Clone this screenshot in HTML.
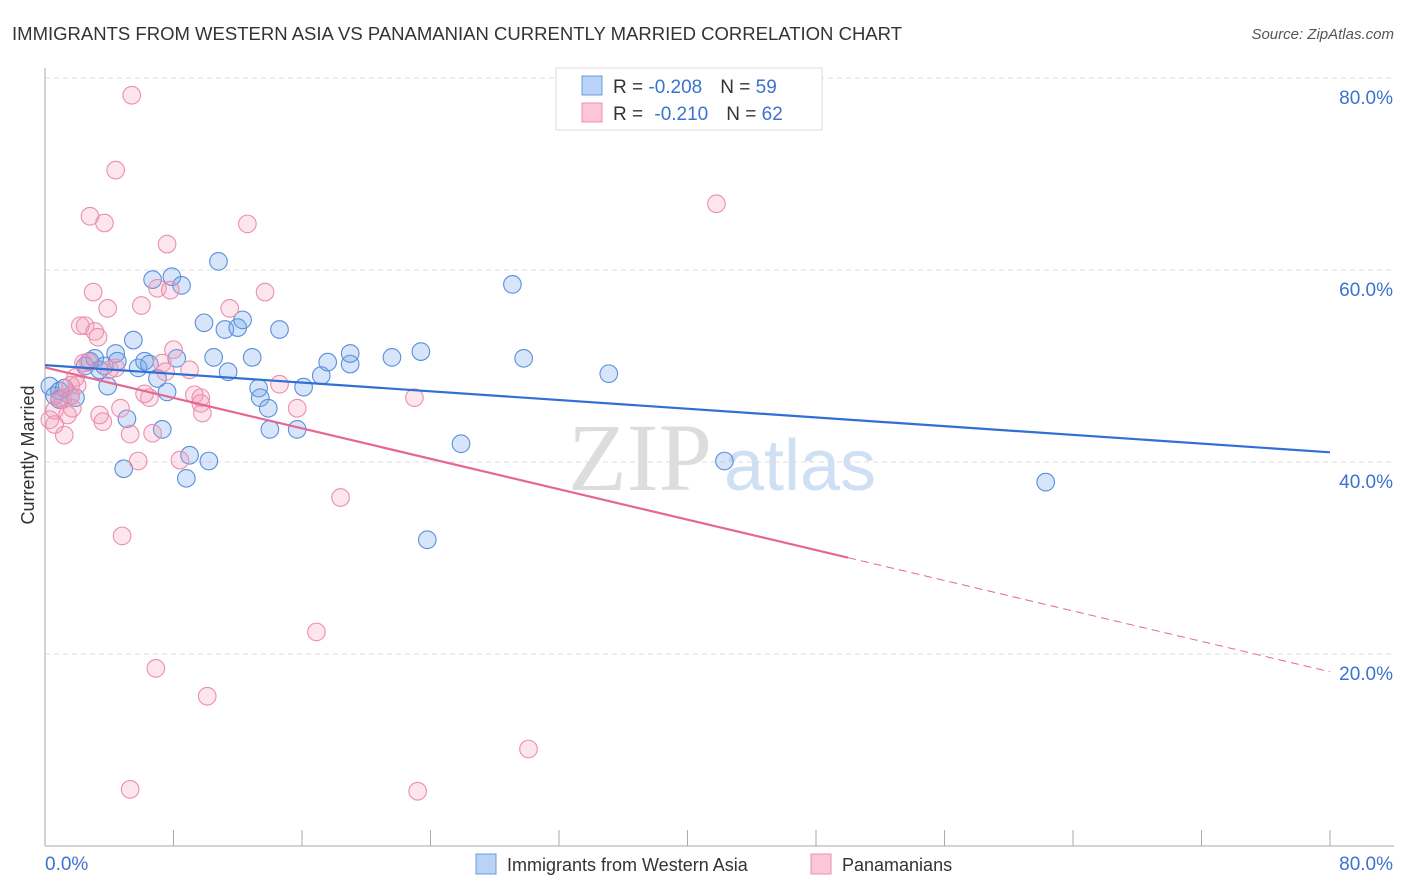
<!DOCTYPE html>
<html><head><meta charset="utf-8"><style>
body{margin:0;background:#fff;font-family:"Liberation Sans",sans-serif}
svg{display:block}
</style></head><body>
<svg id="c" width="1406" height="892">
<text x="12" y="40" font-size="18" fill="#333" textLength="890" lengthAdjust="spacingAndGlyphs">IMMIGRANTS FROM WESTERN ASIA VS PANAMANIAN CURRENTLY MARRIED CORRELATION CHART</text>
<text x="1394" y="39" font-size="15" fill="#555" font-style="italic" text-anchor="end">Source: ZipAtlas.com</text>
<text x="640" y="490" font-size="96" fill="#ddd" font-family="Liberation Serif" text-anchor="middle">ZIP</text>
<text x="800" y="490" font-size="72" fill="#cfe0f5" text-anchor="middle">atlas</text>
<text transform="translate(34,455) rotate(-90)" font-size="18" fill="#333" text-anchor="middle">Currently Married</text>
<g id="grid"></g><g id="pts"></g><g id="lines"></g>
<g>
<rect x="556" y="68" width="266" height="62" fill="#fff" stroke="#ddd"/>
<rect x="582" y="76" width="20" height="19" fill="#b9d3f5" stroke="#6a9be0"/>
<rect x="582" y="103" width="20" height="19" fill="#fbc7d6" stroke="#ee8fac"/>
<text x="613" y="93" font-size="19" fill="#333">R = <tspan fill="#3a73d0">-0.208</tspan><tspan dx="18">N = </tspan><tspan fill="#3a73d0">59</tspan></text>
<text x="613" y="120" font-size="19" fill="#333">R = <tspan fill="#3a73d0" dx="6">-0.210</tspan><tspan dx="18">N = </tspan><tspan fill="#3a73d0">62</tspan></text>
</g>
<g>
<rect x="476" y="854" width="20" height="20" fill="#b9d3f5" stroke="#6a9be0"/>
<text x="507" y="871" font-size="18" fill="#333">Immigrants from Western Asia</text>
<rect x="811" y="854" width="20" height="20" fill="#fbc7d6" stroke="#ee8fac"/>
<text x="842" y="871" font-size="18" fill="#333">Panamanians</text>
</g>
</svg>
<script>
const yTicks=[20,40,60,80];
const xTickLabels=["0.0%","80.0%"];
const blueX=[0.3,0.6,0.9,1.2,1.6,1.9,2.5,2.8,3.1,3.4,3.7,3.9,4.4,4.5,4.9,5.1,5.5,5.8,6.2,6.5,6.7,7.0,7.3,7.6,7.9,8.2,8.5,8.8,9.0,9.9,10.2,10.5,10.8,11.2,11.4,12.0,12.3,12.9,13.3,13.4,13.9,14.0,14.6,15.7,16.1,17.2,17.6,19.0,19.0,21.6,23.4,23.8,25.9,29.1,29.8,35.1,42.3,62.3,0.9];
const blueY=[47.9,46.9,47.4,47.7,46.9,46.7,50.0,50.5,50.8,49.6,50.0,47.9,51.3,50.5,39.3,44.5,52.7,49.8,50.5,50.2,59.0,48.7,43.4,47.3,59.3,50.8,58.4,38.3,40.7,54.5,40.1,50.9,60.9,53.8,49.4,54.0,54.8,50.9,47.7,46.7,45.6,43.4,53.8,43.4,47.8,49.0,50.4,50.2,51.3,50.9,51.5,31.9,41.9,58.5,50.8,49.2,40.1,37.9,46.5];
const pinkX=[0.3,0.6,0.9,1.2,1.4,1.6,1.7,2.0,2.2,2.5,2.7,2.8,3.0,3.1,3.3,3.4,3.6,3.7,3.9,4.4,4.4,4.7,4.8,5.3,5.4,5.8,6.0,6.5,6.7,6.9,7.0,7.3,7.6,7.8,8.0,8.4,9.0,9.3,9.7,9.8,10.1,11.5,12.6,13.7,14.6,15.7,16.9,18.4,23.0,23.2,30.1,41.8,5.3,1.9,6.2,0.6,1.1,7.5,9.7,4.0,2.4,1.6];
const pinkY=[44.4,45.4,46.7,42.8,44.9,48.0,45.6,48.0,54.2,54.2,50.4,65.6,57.7,53.6,53.0,44.9,44.2,64.9,56.0,49.8,70.4,45.6,32.3,42.9,78.2,40.1,56.3,46.7,43.0,18.5,58.1,50.3,62.7,57.9,51.7,40.2,49.6,47.0,46.1,45.1,15.6,56.0,64.8,57.7,48.1,45.6,22.3,36.3,46.7,5.7,10.1,66.9,5.9,48.8,47.1,43.9,46.5,49.4,46.7,49.6,50.3,46.9];
const svgNS="http://www.w3.org/2000/svg";
const X=v=>45+v/80*1285, Y=v=>846-v*9.6;
function mk(tag,attrs,parent){const e=document.createElementNS(svgNS,tag);for(const k in attrs)e.setAttribute(k,attrs[k]);parent.appendChild(e);return e;}
const grid=document.getElementById('grid'),pts=document.getElementById('pts'),lines=document.getElementById('lines');
yTicks.forEach(t=>{
 const l=mk('line',{x1:45,x2:1394,y1:Y(t),y2:Y(t),stroke:'#ddd','stroke-dasharray':'5,4'},grid);
 
 
 const tx=mk('text',{x:1393,y:Y(t)+26,'font-size':19,fill:'#3a73d0','text-anchor':'end'},grid);
 tx.textContent=t.toFixed(1)+'%';
 
 
});
const ax=mk('line',{x1:45,x2:45,y1:68,y2:846,stroke:'#aaa'},grid);


const bx=mk('line',{x1:45,x2:1394,y1:846,y2:846,stroke:'#aaa'},grid);


for(let i=0;i<=10;i++){
 const t=mk('line',{x1:X(i*8),x2:X(i*8),y1:830,y2:846,stroke:'#aaa'},grid);
 
 
}
[[0,45,'start'],[1,1393,'end']].forEach(([i,x,a])=>{
 const t=mk('text',{x:x,y:870,'font-size':19,fill:'#3a73d0','text-anchor':a},grid);
 t.textContent=xTickLabels[i];
 
 
});
blueX.forEach((v,i)=>{
 const c=mk('circle',{cx:X(v),cy:Y(blueY[i]),r:8.8,fill:'rgba(120,170,235,0.3)',stroke:'#5a8fdc','stroke-width':1.1},pts);
 
 
});
pinkX.forEach((v,i)=>{
 const c=mk('circle',{cx:X(v),cy:Y(pinkY[i]),r:8.8,fill:'rgba(245,150,180,0.25)',stroke:'#ec8fae','stroke-width':1.1},pts);
 
 
});
function fit(xs,ys){const n=xs.length;let mx=0,my=0;xs.forEach((v,i)=>{mx+=v;my+=ys[i]});mx/=n;my/=n;let sxy=0,sxx=0;xs.forEach((v,i)=>{sxy+=(v-mx)*(ys[i]-my);sxx+=(v-mx)**2});const b=sxy/sxx;return [my-b*mx,b];}
const [ba,bb]=fit(blueX,blueY),[pa,pb]=fit(pinkX,pinkY);
const bl=mk('line',{x1:X(0),y1:Y(ba),x2:X(80),y2:Y(ba+bb*80),stroke:'#2f6fd6','stroke-width':2.2},lines);


const pl=mk('line',{x1:X(0),y1:Y(pa),x2:X(50),y2:Y(pa+pb*50),stroke:'#e46892','stroke-width':2.2},lines);


const pd=mk('line',{x1:X(50),y1:Y(pa+pb*50),x2:X(80),y2:Y(pa+pb*80),stroke:'#e46892','stroke-width':1,'stroke-dasharray':'8,5'},lines);


</script>
</body></html>
